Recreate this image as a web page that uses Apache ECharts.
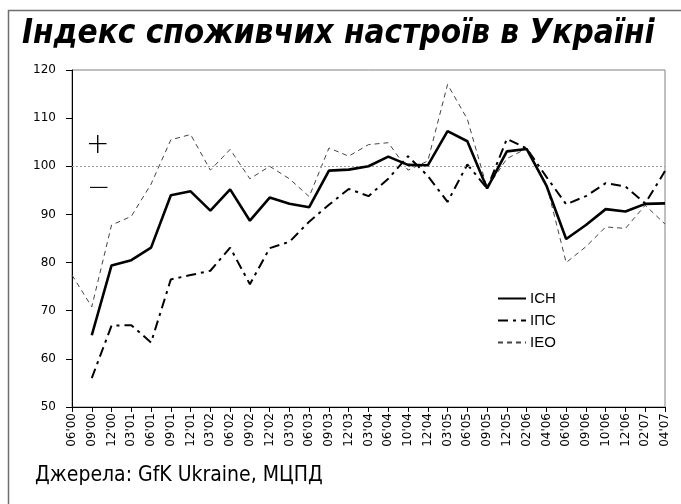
<!DOCTYPE html>
<html><head><meta charset="utf-8">
<script src="https://cdn.jsdelivr.net/npm/echarts@6/dist/echarts.min.js"></script>
<style>html,body{margin:0;padding:0;background:#fff}#c{width:681px;height:504px}</style>
</head><body><div id="c"></div>
<script>
var categories = ["06'00","09'00","12'00","03'01","06'01","09'01","12'01","03'02","06'02","09'02","12'02","03'03","06'03","09'03","12'03","03'04","06'04","10'04","12'04","03'05","06'05","09'05","12'05","02'06","04'06","06'06","09'06","10'06","12'06","02'07","04'07"];
var ich = [null,64.9,79.4,80.5,83.1,94,94.8,90.8,95.2,88.7,93.5,92.2,91.5,99.1,99.3,100,102,100.3,100.2,107.3,105.2,95.4,103.1,103.6,96,84.9,87.8,91.1,90.6,92.2,92.3];
var ips = [null,56,66.9,67,63.4,76.5,77.4,78.3,83.1,75.5,83,84.3,88.5,92,95.3,93.8,97.4,102.1,98,92.6,100.4,95.4,105.7,103.7,97.8,92.1,93.8,96.5,95.8,92.3,99];
var ieo = [77.4,70.8,87.8,89.6,96.3,105.5,106.6,99.2,103.5,97.4,100,97.4,93.7,103.8,102.1,104.5,104.9,99.2,101.1,117,109.8,95.5,101.6,103.7,96.3,80,83.3,87.4,87.1,91.9,88];
var seriesNames = ["ІСН","ІПС","ІЕО"];
var yTicks = {min:50, max:120, interval:10};
var refLevel = 100;

var chart = echarts.init(document.getElementById('c'));
var condensed = '"DejaVu Sans Condensed","Liberation Sans Narrow","DejaVu Sans",sans-serif';
chart.setOption({
  animation:false,
  backgroundColor:'#fff',
  graphic:[
    {type:'rect', shape:{x:8.5,y:10.5,width:720,height:560}, style:{fill:'none',stroke:'#6e6e6e',lineWidth:1.5}, z:0},
    {type:'text', left:22, top:18, style:{text:'Індекс споживчих настроїв в Україні', font:'italic bold 33px '+condensed, fill:'#000'}},
    {type:'text', left:35, top:465, style:{text:'Джерела: GfK Ukraine, МЦПД', font:'21px '+condensed, fill:'#000'}},
    {type:'text', left:86, top:132, style:{text:'+', font:'lighter 28px "DejaVu Sans",sans-serif', fill:'#000'}},
    {type:'text', left:87, top:175, style:{text:'−', font:'lighter 28px "DejaVu Sans",sans-serif', fill:'#000'}}
  ],
  grid:{left:72, right:16, top:70, bottom:97, show:true, borderColor:'#808080', borderWidth:1},
  legend:{
    orient:'vertical', left:492, top:286, itemWidth:28, itemHeight:12, itemGap:7,
    itemStyle:{opacity:0},
    textStyle:{fontFamily:'"Liberation Sans",sans-serif', fontSize:15, color:'#000', padding:[0,0,0,-1]},
    data:seriesNames
  },
  xAxis:{
    type:'category', data:categories, boundaryGap:false,
    axisLine:{lineStyle:{color:'#000',width:1}},
    axisTick:{show:true, alignWithLabel:true, length:5, lineStyle:{color:'#000'}},
    axisLabel:{rotate:90, interval:0, fontFamily:'"DejaVu Sans",sans-serif', fontSize:12, color:'#000', margin:6},
    splitLine:{show:false}
  },
  yAxis:{
    type:'value', min:yTicks.min, max:yTicks.max, interval:yTicks.interval,
    axisLine:{show:true, lineStyle:{color:'#000',width:1}},
    axisTick:{show:true, length:6, lineStyle:{color:'#000'}},
    axisLabel:{fontFamily:'"DejaVu Sans",sans-serif', fontSize:12, color:'#000', margin:16},
    splitLine:{show:false}
  },
  series:[
    {name:seriesNames[0], type:'line', data:ich, symbol:'none', connectNulls:false, z:5,
     lineStyle:{color:'#000', width:2.6, type:'solid'}, itemStyle:{color:'#000'},
     markLine:{silent:true, symbol:'none', label:{show:false},
       lineStyle:{color:'#9a9a9a', width:1.2, type:[2,2]}, data:[{yAxis:refLevel}]}},
    {name:seriesNames[1], type:'line', data:ips, symbol:'none', z:4,
     lineStyle:{color:'#000', width:2, type:[10,5,3,5]}, itemStyle:{color:'#000'}},
    {name:seriesNames[2], type:'line', data:ieo, symbol:'none', z:3,
     lineStyle:{color:'#444', width:1, type:[5,4]}, itemStyle:{color:'#444'}}
  ]
});
</script></body></html>
